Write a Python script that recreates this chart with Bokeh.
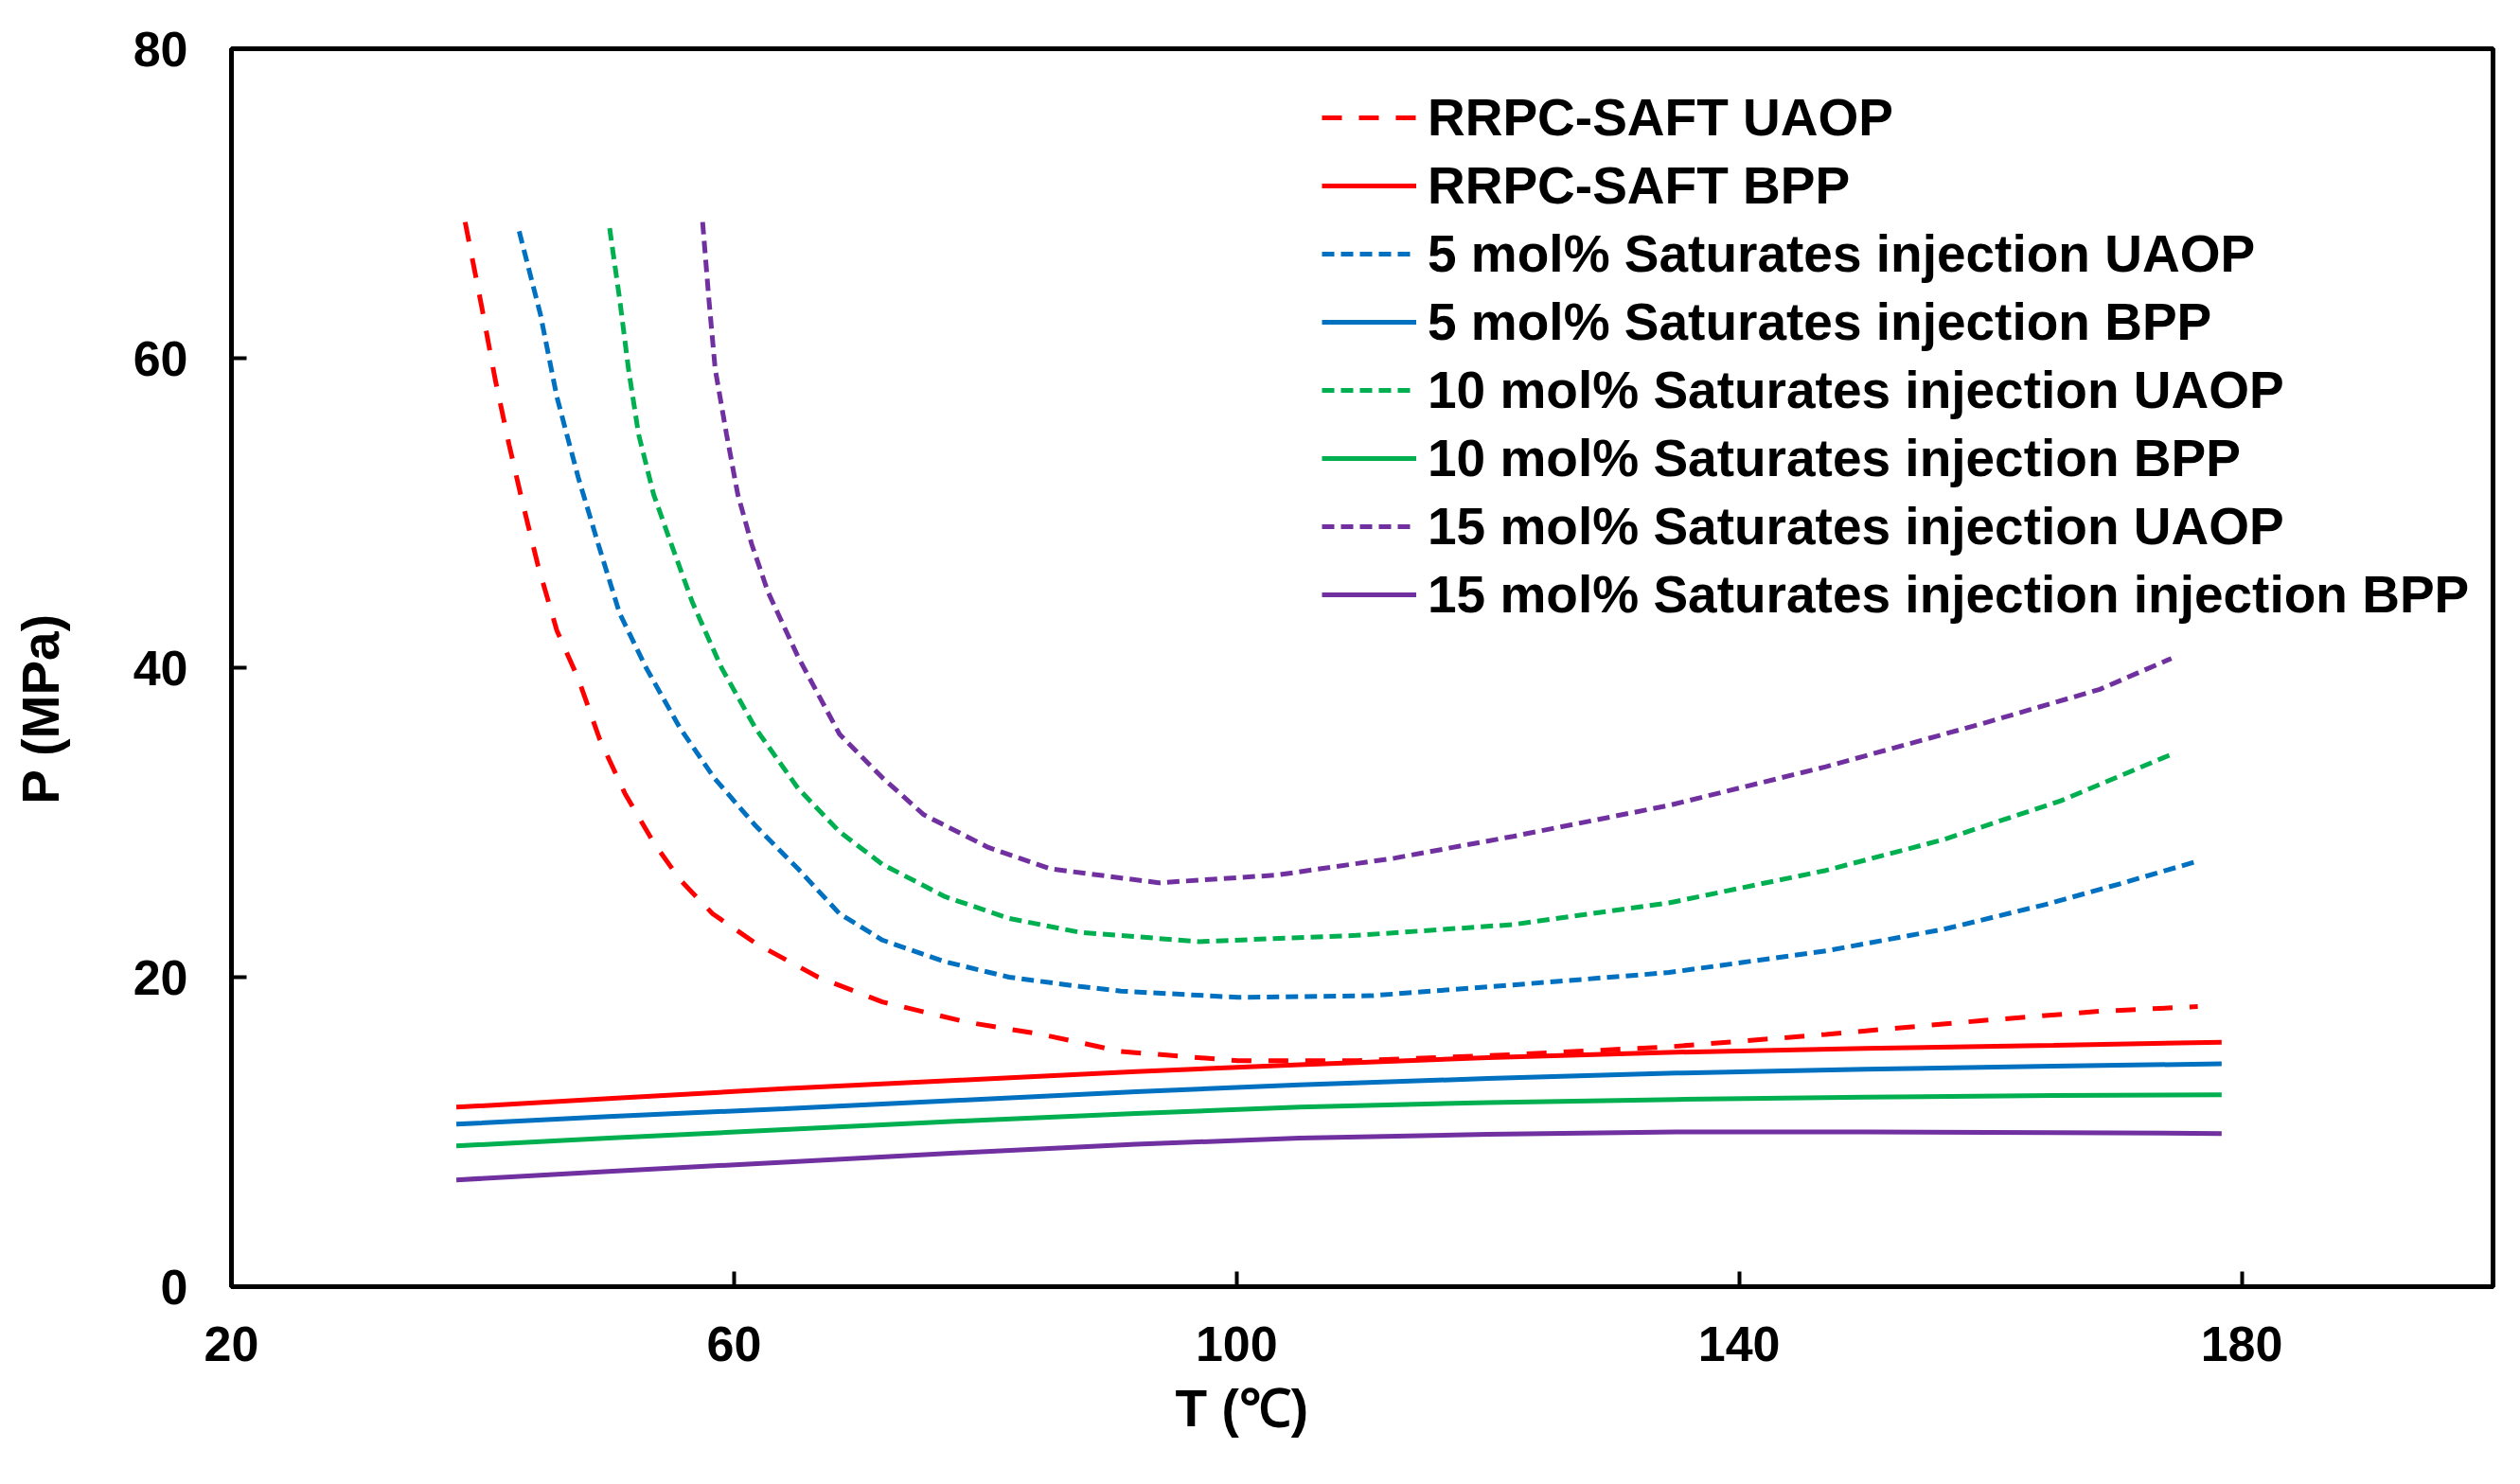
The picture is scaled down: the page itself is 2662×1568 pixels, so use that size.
import math
from bokeh.plotting import figure
from bokeh.layouts import row
from bokeh.core.properties import value
from bokeh.models import Legend, LegendItem, FixedTicker, Range1d, Title
from bokeh.embed import file_html
from bokeh.resources import INLINE

FONT = "Liberation Sans"

X_TICKS = [20, 60, 100, 140, 180]
Y_TICKS = [0, 20, 40, 60, 80]
X_TITLE = "T (℃)"
Y_TITLE = "P (MPa)"

# RRPC-SAFT UAOP
rr_uaop_T = [38.6, 39.9, 41.0, 42.1, 43.1, 44.4, 45.9, 47.6, 49.3, 51.3, 53.6, 55.7, 58.3, 61.7,
             66.7, 71.8, 78.5, 84.5, 90.8, 100.1, 109.5, 122.0, 134.4, 146.9, 159.4, 168.7, 176.5]
rr_uaop_P = [68.8, 63.4, 58.6, 54.4, 50.9, 46.6, 42.4, 39.3, 35.4, 31.9, 28.7, 26.3, 24.1, 22.2,
             20.0, 18.4, 17.1, 16.3, 15.2, 14.6, 14.6, 15.0, 15.5, 16.3, 17.2, 17.8, 18.1]

# BPP curves share temperatures
bpp_T = [37.9, 50.0, 64.0, 78.0, 92.0, 105.0, 120.0, 135.0, 150.0, 165.0, 178.4]
rr_bpp_P = [11.6, 12.15, 12.8, 13.35, 13.9, 14.35, 14.8, 15.15, 15.4, 15.6, 15.8]
s5_bpp_P = [10.5, 11.0, 11.5, 12.05, 12.6, 13.05, 13.45, 13.8, 14.05, 14.25, 14.4]
s10_bpp_P = [9.1, 9.6, 10.15, 10.7, 11.2, 11.6, 11.9, 12.1, 12.25, 12.35, 12.4]
s15_bpp_P = [6.9, 7.45, 8.05, 8.65, 9.2, 9.6, 9.85, 10.0, 10.0, 9.95, 9.9]

# 5 mol% UAOP
s5_uaop_T = [42.9, 44.6, 45.9, 47.6, 49.3, 50.9, 53.0, 55.7, 58.4, 61.7, 65.1, 68.4, 71.8, 76.8,
             81.9, 87.5, 90.8, 100.1, 110.7, 122.0, 134.4, 146.9, 156.3, 164.4, 170.6, 176.5]
s5_uaop_P = [68.2, 62.8, 57.5, 52.3, 47.7, 43.5, 40.0, 36.1, 32.9, 29.8, 27.0, 24.1, 22.4, 21.0,
             20.0, 19.4, 19.1, 18.7, 18.8, 19.5, 20.3, 21.7, 23.1, 24.7, 26.1, 27.5]

# 10 mol% UAOP
s10_uaop_T = [50.1, 50.9, 51.6, 52.4, 53.6, 55.0, 56.7, 59.0, 61.7, 65.1, 68.4, 71.8, 76.8, 81.9,
              87.5, 97.0, 109.5, 122.0, 134.4, 146.9, 156.3, 165.6, 174.7]
s10_uaop_P = [68.4, 63.8, 59.3, 55.1, 51.2, 48.0, 44.2, 40.0, 36.1, 32.2, 29.4, 27.3, 25.2, 23.8,
              22.9, 22.3, 22.7, 23.4, 24.8, 26.9, 28.9, 31.4, 34.5]

# 15 mol% UAOP
s15_uaop_T = [57.5, 58.0, 58.5, 59.4, 60.3, 61.4, 62.7, 65.1, 68.4, 71.8, 75.1, 80.2, 85.2, 93.8,
              103.2, 112.6, 122.0, 134.4, 146.9, 159.4, 168.7, 174.4]
s15_uaop_P = [68.8, 63.8, 59.3, 55.1, 51.2, 48.0, 44.9, 40.7, 35.7, 32.9, 30.5, 28.4, 27.0, 26.1,
              26.6, 27.7, 29.1, 31.1, 33.6, 36.4, 38.6, 40.6]

LABELS = [
    "RRPC-SAFT UAOP",
    "RRPC-SAFT BPP",
    "5 mol% Saturates injection UAOP",
    "5 mol% Saturates injection BPP",
    "10 mol% Saturates injection UAOP",
    "10 mol% Saturates injection BPP",
    "15 mol% Saturates injection UAOP",
    "15 mol% Saturates injection injection BPP",
]

RED, BLUE, GREEN, PURPLE = "#FF0000", "#0070C0", "#00B050", "#7030A0"

SIDE_W = 90
FRAME_W, FRAME_H = 2389, 1308
TOP, BOTTOM = 51, 194

# narrow strip on the left carrying the rotated y-axis title; shares the main frame's vertical scale
side = figure(frame_width=SIDE_W, frame_height=FRAME_H,
              min_border_left=0, min_border_right=0, min_border_top=TOP, min_border_bottom=BOTTOM,
              x_range=Range1d(0, SIDE_W), y_range=Range1d(0, 80),
              x_axis_location=None, y_axis_location=None,
              output_backend="svg", toolbar_location=None, tools="")
side.grid.visible = False
side.outline_line_color = None
side.background_fill_color = "white"
side.border_fill_color = "white"
side.text(x=[42], y=[37.35], text=[Y_TITLE], angle=math.pi / 2,
          text_align="center", text_baseline="middle", text_font=value(FONT),
          text_font_style="bold", text_font_size=value("55px"), text_color="black")

p = figure(frame_width=FRAME_W, frame_height=FRAME_H,
           min_border_left=244 - SIDE_W, min_border_top=TOP, min_border_right=12,
           min_border_bottom=BOTTOM,
           x_range=Range1d(20, 200), y_range=Range1d(0, 80),
           output_backend="svg", toolbar_location=None, tools="")

p.background_fill_color = "white"
p.border_fill_color = "white"
p.outline_line_color = "black"
p.outline_line_width = 5
p.grid.visible = False

p.xaxis.ticker = FixedTicker(ticks=X_TICKS)
p.yaxis.ticker = FixedTicker(ticks=Y_TICKS)
for ax in (p.xaxis, p.yaxis):
    ax.axis_line_width = 5
    ax.axis_line_color = "black"
    ax.major_tick_in = 16
    ax.major_tick_out = 0
    ax.major_tick_line_width = 4
    ax.major_tick_line_color = "black"
    ax.minor_tick_line_color = None
    ax.major_label_text_font = FONT
    ax.major_label_text_font_style = "bold"
    ax.major_label_text_font_size = "52px"
    ax.major_label_text_color = "black"
p.xaxis.major_label_standoff = 42
p.yaxis.major_label_standoff = 46

series = [
    (rr_uaop_T, rr_uaop_P, RED, "21 18"),
    (bpp_T, rr_bpp_P, RED, "solid"),
    (s5_uaop_T, s5_uaop_P, BLUE, "13 7"),
    (bpp_T, s5_bpp_P, BLUE, "solid"),
    (s10_uaop_T, s10_uaop_P, GREEN, "13 7"),
    (bpp_T, s10_bpp_P, GREEN, "solid"),
    (s15_uaop_T, s15_uaop_P, PURPLE, "13 7"),
    (bpp_T, s15_bpp_P, PURPLE, "solid"),
]

items = []
for (xs, ys, col, dash), lab in zip(series, LABELS):
    r = p.line(xs, ys, line_color=col, line_width=5, line_dash=dash)
    items.append(LegendItem(label=lab, renderers=[r]))

legend = Legend(items=items, location=(1152, 695), padding=0, margin=0,
                border_line_color=None, background_fill_alpha=0,
                glyph_width=100, glyph_height=72, label_height=72, spacing=0,
                label_standoff=12, label_text_font=FONT, label_text_font_style="bold",
                label_text_font_size="55px", label_text_color="black")
p.add_layout(legend)

xt = Title(text=X_TITLE, align="left", offset=997, standoff=28,
           text_font=FONT, text_font_style="bold", text_font_size="55px", text_color="black")
p.add_layout(xt, "below")

layout = row(side, p, spacing=0)
open("out.html", "w").write(file_html(layout, INLINE))
